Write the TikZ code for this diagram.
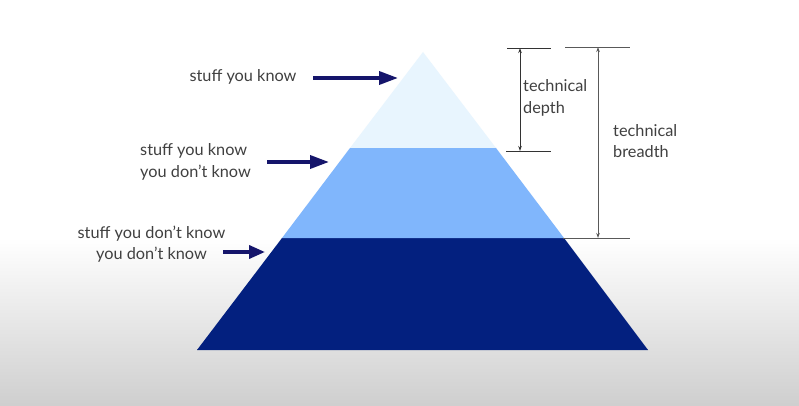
\documentclass[tikz,border=0pt]{standalone}
\usepackage{fontspec}
\setmainfont{Lato}
\usetikzlibrary{arrows.meta}
\definecolor{tierone}{HTML}{E8F5FE}
\definecolor{tiertwo}{HTML}{80B6FC}
\definecolor{tierthree}{HTML}{03207F}
\definecolor{pointer}{HTML}{15156B}
\definecolor{labeltext}{HTML}{404040}
\definecolor{dimline}{HTML}{333333}
\begin{document}
\begin{tikzpicture}[x=1pt,y=-1pt,
  lbl/.style={text=labeltext,font=\fontsize{16.3}{21.5}\selectfont,inner sep=0pt},
  pointarrow/.style={draw=pointer,line width=3.6pt,-{Triangle[length=19pt,width=13pt]}},
  dimarrow/.style={draw=dimline,line width=0.9pt,{Stealth[length=5pt,width=3.5pt]}-{Stealth[length=5pt,width=3.5pt]}},
  tick/.style={draw=dimline,line width=0.9pt}]
  % canvas and floor gradient
  \useasboundingbox (0,0) rectangle (799,406);
  \fill[white] (0,0) rectangle (799,406);
  \shade[top color=white,bottom color=black!19] (0,238) rectangle (799,406);

  % pyramid corners
  \coordinate (apex) at (423,52);
  \coordinate (l1) at (350,148);
  \coordinate (r1) at (496,148);
  \coordinate (l2) at (282,238);
  \coordinate (r2) at (564,238);
  \coordinate (l3) at (197,350);
  \coordinate (r3) at (648,350);

  % tiers, with a thin shadow under the base
  \fill[black!45] ([yshift=1.5]l3) -- ([yshift=1.5]r3) -- (r3) -- (l3) -- cycle;
  \fill[tierthree] (l2) -- (r2) -- (r3) -- (l3) -- cycle;
  \fill[tiertwo] (l1) -- (r1) -- (r2) -- (l2) -- cycle;
  \fill[tierone] (apex) -- (r1) -- (l1) -- cycle;

  % labels on the left
  \node[lbl,anchor=center] (known) at (243,77) {stuff you know};
  \node[lbl,align=left,anchor=west] (knownunknown) at (140,162) {stuff you know\\you don’t know};
  \node[lbl,align=center,anchor=center] (unknownunknown) at (151.5,244) {stuff you don’t know\\you don’t know};

  % pointers into the tiers
  \coordinate (p1a) at (313,78);  \coordinate (p1b) at (398,78);
  \coordinate (p2a) at (267,162); \coordinate (p2b) at (329,162);
  \coordinate (p3a) at (223,252); \coordinate (p3b) at (265,252);
  \draw[pointarrow] (p1a) -- (p1b);
  \draw[pointarrow] (p2a) -- (p2b);
  \draw[pointarrow,-{Triangle[length=16pt,width=13pt]}] (p3a) -- (p3b);

  % technical depth dimension
  \coordinate (dtopl) at (507,48);  \coordinate (dtopr) at (551,48);
  \coordinate (dbotl) at (506,151); \coordinate (dbotr) at (551,151);
  \coordinate (dtop) at (520,48);   \coordinate (dbot) at (520,151);
  \draw[tick] (dtopl) -- (dtopr);
  \draw[tick] (dbotl) -- (dbotr);
  \draw[dimarrow] (dtop) -- (dbot);
  \node[lbl,align=left,anchor=west] (depth) at (523,98) {technical\\depth};

  % technical breadth dimension
  \coordinate (btopl) at (565,47);  \coordinate (btopr) at (630,47);
  \coordinate (bbotl) at (563,238); \coordinate (bbotr) at (630,238);
  \coordinate (btop) at (598,47);   \coordinate (bbot) at (598,238);
  \draw[tick,draw=black!65] (btopl) -- (btopr);
  \draw[tick,draw=black!65] (bbotl) -- (bbotr);
  \draw[dimarrow,draw=black!65] (btop) -- (bbot);
  \node[lbl,align=left,anchor=west] (breadth) at (613,141) {technical\\breadth};
\end{tikzpicture}
\end{document}
